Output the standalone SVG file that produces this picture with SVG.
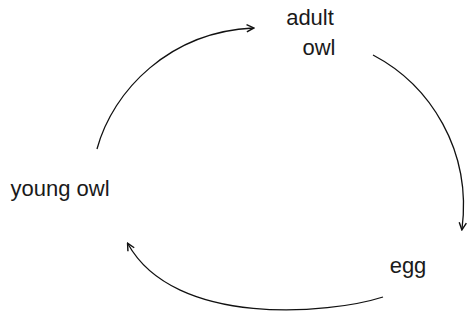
<svg xmlns="http://www.w3.org/2000/svg" width="476" height="323" viewBox="0 0 476 323">
<style>
.t{font-family:"Liberation Sans",Arial,sans-serif;font-size:22px;fill:#1a1a1a}
.c{fill:none;stroke:#111;stroke-width:1.3}
</style>
<defs>
<marker id="ah" viewBox="0 0 10 10" refX="8" refY="5" markerWidth="9" markerHeight="9" markerUnits="userSpaceOnUse" orient="auto">
<path d="M1,1 L9,5 L1,9" fill="none" stroke="#111" stroke-width="1.6"/>
</marker>
</defs>
<rect width="476" height="323" fill="#fff"/>
<g id="connectors">
<path class="c" d="M97,149 C113,90 170,32 253,28" marker-end="url(#ah)"/>
<path class="c" d="M373,55 C430,85 472,150 462,229" marker-end="url(#ah)"/>
<path class="c" d="M383,297 C330,314 175,328 128,244" marker-end="url(#ah)"/>
</g>
<g id="adult-owl">
<text class="t" x="310" y="25" text-anchor="middle">adult</text>
<text class="t" x="319" y="55" text-anchor="middle">owl</text>
</g>
<g id="young-owl">
<text class="t" x="60" y="196" text-anchor="middle">young owl</text>
</g>
<g id="egg">
<text class="t" x="408" y="273" text-anchor="middle">egg</text>
</g>
</svg>
